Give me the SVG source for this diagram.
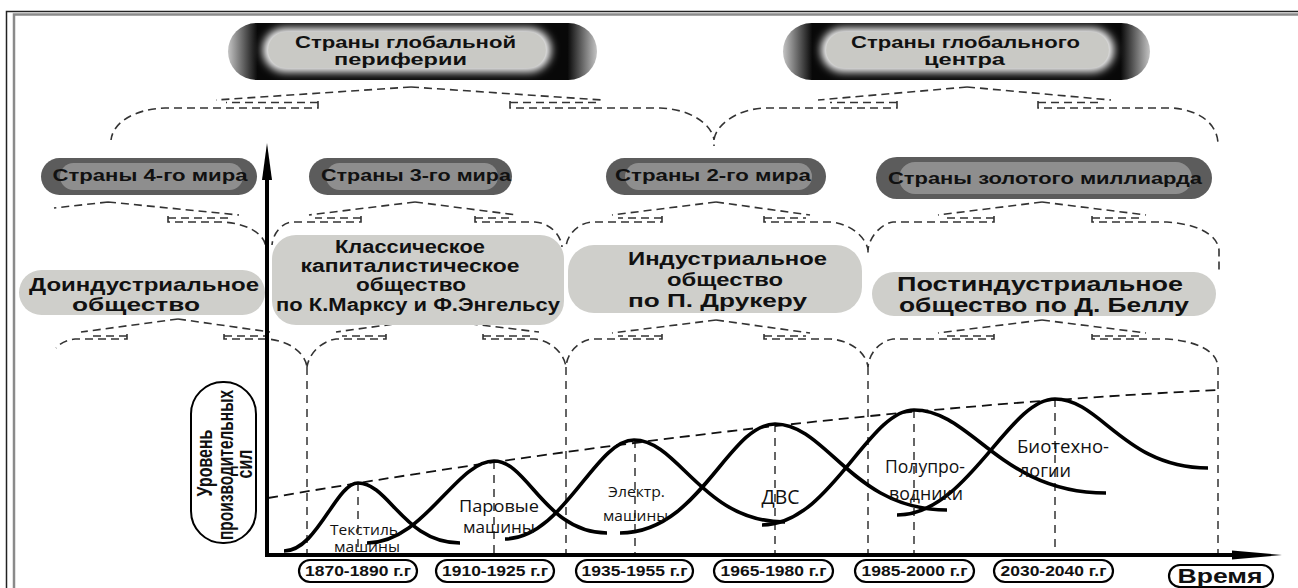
<svg xmlns="http://www.w3.org/2000/svg" width="1298" height="588" viewBox="0 0 1298 588">
<style>
.dash{fill:none;stroke:#333;stroke-width:1.6;stroke-dasharray:8 5}
.vd{fill:none;stroke:#333;stroke-width:1.5;stroke-dasharray:8 6}
.trend{fill:none;stroke:#111;stroke-width:1.8;stroke-dasharray:10 6}
.wave{fill:none;stroke:#000;stroke-width:3.6}
.b{font-family:"Liberation Sans",Arial,sans-serif;font-weight:bold;text-anchor:middle;fill:#111}
.r{font-family:"Open Sans","Noto Sans",sans-serif;text-anchor:middle;fill:#111}
.date{fill:#fff;stroke:#000;stroke-width:2.2}
.lvl2o{fill:#5c5c5c}
.lvl2i{fill:#8e8e8e}
.soc{fill:#cfcfcb}
.topi{fill:#c9c9c5}
</style>
<defs>
<linearGradient id="topG" x1="0" y1="0" x2="1" y2="0">
<stop offset="0" stop-color="#c4c4c4"/><stop offset="0.08" stop-color="#080808"/><stop offset="0.92" stop-color="#080808"/><stop offset="1" stop-color="#c4c4c4"/>
</linearGradient>
<filter id="blur4" x="-20%" y="-60%" width="140%" height="220%"><feGaussianBlur stdDeviation="4"/></filter>
<clipPath id="clipA"><rect x="228" y="23" width="369" height="57" rx="28.5"/></clipPath>
<clipPath id="clipB"><rect x="783" y="23" width="367" height="57" rx="28.5"/></clipPath>
</defs>

<g id="frame" fill="none">
<rect x="6.5" y="11.5" width="1400" height="700" stroke="#222" stroke-width="1.5"/>
<rect x="14" y="14.5" width="1400" height="700" stroke="#8a8a8a" stroke-width="2.5"/>
</g>

<g id="connectors">
<path class="dash" d="M411,87 L216,100 M318,102.5 L226,102.5 M318,101 L318,108 L165,108 C135,109 113,122 111,140"/>
<path class="dash" d="M411,87 L602,100 M510,102.5 L596,102.5 M510,101 L510,108 L660,108 C690,109 712,124 714,140"/>
<path class="dash" d="M967,87 L818,100 M897,102.5 L830,102.5 M897,101 L897,108 L765,108 C738,109 716,124 714,140 L714,146"/>
<path class="dash" d="M967,87 L1111,100 M1038,102.5 L1100,102.5 M1038,101 L1038,108 L1172,108 C1200,110 1217,124 1218,143"/>
<path class="dash" d="M108,202 L54,208 M108,202 L239,215 M168,218 L232,218 M168,216 L168,222 L222,222 C246,223 264,233 266,247"/>
<path class="dash" d="M415,202 L309,215 M361,218 L315,218 M361,216 L361,222 L292,222 C282,223 273,233 272,245"/>
<path class="dash" d="M415,202 L517,215 M475,218 L512,218 M475,216 L475,222 L535,222 C550,223 561,235 562,247"/>
<path class="dash" d="M716,202 L612,215 M662,218 L618,218 M662,216 L662,222 L592,222 C578,223 567,235 566,247"/>
<path class="dash" d="M716,202 L810,215 M764,218 L806,218 M764,216 L764,222 L831,222 C852,224 866,238 868,250 L868,257"/>
<path class="dash" d="M1042,202 L938,215 M994,218 L944,218 M994,216 L994,222 L893,222 C880,224 869,238 868,250"/>
<path class="dash" d="M1042,202 L1146,215 M1092,218 L1140,218 M1092,216 L1092,222 L1167,222 C1195,224 1217,233 1219,250 L1219,272"/>
<path class="dash" d="M178,319 L81,332 M127,336 L88,336 M127,334 L127,339 L75,339 C66,340 59,344 56,348"/>
<path class="dash" d="M178,319 L270,332 M224,336 L265,336 M224,334 L224,339 L268,339 C290,341 305,353 307,367"/>
<path class="dash" d="M431,319 L336,332 M386,336 L342,336 M386,334 L386,339 L336,339 C322,341 309,353 307,367"/>
<path class="dash" d="M431,319 L539,332 M483,336 L533,336 M483,334 L483,339 L535,339 C551,341 564,353 566,367"/>
<path class="dash" d="M716,320 L612,333 M662,336 L618,336 M662,334 L662,339 L592,339 C578,341 567,353 566,367"/>
<path class="dash" d="M716,320 L810,333 M764,336 L806,336 M764,334 L764,339 L831,339 C852,341 866,353 868,367"/>
<path class="dash" d="M1042,320 L938,333 M994,336 L944,336 M994,334 L994,339 L893,339 C880,341 869,353 868,367"/>
<path class="dash" d="M1042,320 L1146,333 M1092,336 L1140,336 M1092,334 L1092,339 L1167,339 C1195,341 1217,350 1218,367"/>
<path class="vd" d="M307,367 V553 M566,367 V553 M868,367 V553 M1218,367 V553"/>
<path class="vd" d="M358,483 V553 M494,461 V553 M635,440 V553 M775,424 V553 M914,410 V553 M1055,399 V553"/>
<path class="trend" d="M268,498 Q772,412 1218,390"/>
<path class="wave" d="M284,551 C317,551 336,483 358,483 C389,483 404,543 460,543"/>
<path class="wave" d="M367,543 C424,543 456,461 494,461 C528,461 545,533 607,533"/>
<path class="wave" d="M505,539 C563,539 595,440 634,440 C679,440 702,522 785,522"/>
<path class="wave" d="M620,533 C700,533 728,424 775,424 C827,424 852,510 947,510"/>
<path class="wave" d="M762,525 C830,525 868,410 914,410 C972,410 1000,493 1106,493"/>
<path class="wave" d="M897,515 C968,515 1008,399 1055,399 C1101,399 1124,468 1208,468"/>
</g>

<g id="top-periphery">
<rect x="228" y="23" width="369" height="57" rx="28.5" fill="url(#topG)"/>
<rect x="263" y="28" width="288" height="44" rx="22" fill="#fff" filter="url(#blur4)" clip-path="url(#clipA)"/>
<rect class="topi" x="268" y="32" width="278" height="36" rx="18"/>
<text class="b" x="405.5" y="48" font-size="16.5" textLength="221" lengthAdjust="spacingAndGlyphs">Страны глобальной</text>
<text class="b" x="400.5" y="65" font-size="16.5" textLength="133" lengthAdjust="spacingAndGlyphs">периферии</text>
</g>
<g id="top-center">
<rect x="783" y="23" width="367" height="57" rx="28.5" fill="url(#topG)"/>
<rect x="821" y="28" width="293" height="44" rx="22" fill="#fff" filter="url(#blur4)" clip-path="url(#clipB)"/>
<rect class="topi" x="826" y="32" width="283" height="36" rx="18"/>
<text class="b" x="965.5" y="48" font-size="16.5" textLength="229" lengthAdjust="spacingAndGlyphs">Страны глобального</text>
<text class="b" x="964.5" y="65" font-size="16.5" textLength="81" lengthAdjust="spacingAndGlyphs">центра</text>
</g>

<g id="world4">
<rect class="lvl2o" x="41" y="158" width="216" height="37" rx="18.5"/>
<rect class="lvl2i" x="60" y="163" width="183" height="27" rx="13.5"/>
<text class="b" x="150" y="181" font-size="16.5" textLength="195" lengthAdjust="spacingAndGlyphs">Страны 4-го мира</text>
</g>
<g id="world3">
<rect class="lvl2o" x="309" y="158" width="203" height="37" rx="18.5"/>
<rect class="lvl2i" x="326" y="163" width="172" height="27" rx="13.5"/>
<text class="b" x="416" y="181" font-size="16.5" textLength="190" lengthAdjust="spacingAndGlyphs">Страны 3-го мира</text>
</g>
<g id="world2">
<rect class="lvl2o" x="606" y="158" width="220" height="37" rx="18.5"/>
<rect class="lvl2i" x="625" y="163" width="187" height="27" rx="13.5"/>
<text class="b" x="713" y="181" font-size="16.5" textLength="196" lengthAdjust="spacingAndGlyphs">Страны 2-го мира</text>
</g>
<g id="golden">
<rect class="lvl2o" x="876" y="157" width="336" height="42" rx="21"/>
<rect class="lvl2i" x="899" y="162" width="293" height="32" rx="16"/>
<text class="b" x="1045" y="184" font-size="16.5" textLength="314" lengthAdjust="spacingAndGlyphs">Страны золотого миллиарда</text>
</g>

<g id="preindustrial">
<rect class="soc" x="19" y="270" width="246" height="45" rx="22.5"/>
<text class="b" x="144" y="290.5" font-size="19" textLength="230" lengthAdjust="spacingAndGlyphs">Доиндустриальное</text>
<text class="b" x="136" y="310.5" font-size="19" textLength="128" lengthAdjust="spacingAndGlyphs">общество</text>
</g>
<g id="classic">
<rect class="soc" x="272" y="235" width="292" height="90" rx="24"/>
<text class="b" x="410" y="253" font-size="17.5" textLength="150" lengthAdjust="spacingAndGlyphs">Классическое</text>
<text class="b" x="410" y="272" font-size="17.5" textLength="219" lengthAdjust="spacingAndGlyphs">капиталистическое</text>
<text class="b" x="411" y="291" font-size="17.5" textLength="110" lengthAdjust="spacingAndGlyphs">общество</text>
<text class="b" x="418" y="310.5" font-size="17.5" textLength="284" lengthAdjust="spacingAndGlyphs">по К.Марксу и Ф.Энгельсу</text>
</g>
<g id="industrial">
<rect class="soc" x="568" y="245" width="294" height="68" rx="26"/>
<text class="b" x="727.5" y="264.5" font-size="19" textLength="199" lengthAdjust="spacingAndGlyphs">Индустриальное</text>
<text class="b" x="725" y="286" font-size="19" textLength="116" lengthAdjust="spacingAndGlyphs">общество</text>
<text class="b" x="717.5" y="306.5" font-size="19" textLength="179" lengthAdjust="spacingAndGlyphs">по П. Друкеру</text>
</g>
<g id="postindustrial">
<rect class="soc" x="872" y="272" width="344" height="44" rx="22"/>
<text class="b" x="1040" y="290.5" font-size="19.5" textLength="286" lengthAdjust="spacingAndGlyphs">Постиндустриальное</text>
<text class="b" x="1044" y="312" font-size="19.5" textLength="290" lengthAdjust="spacingAndGlyphs">общество по Д. Беллу</text>
</g>

<g id="axes">
<line x1="267" y1="172" x2="267" y2="557" stroke="#000" stroke-width="4"/>
<polygon points="267,143 262,180 272,180" fill="#000"/>
<line x1="265" y1="555" x2="1240" y2="555" stroke="#000" stroke-width="4"/>
<polygon points="1232,550.5 1282,555 1232,559.5" fill="#000"/>
</g>

<g id="y-label">
<rect x="191" y="382" width="65" height="161" rx="32" fill="#fff" stroke="#000" stroke-width="2"/>
<text class="b" font-size="16" transform="translate(212,463) scale(1.35,1) rotate(-90)">Уровень</text>
<text class="b" font-size="16" transform="translate(233,465) scale(1.35,1) rotate(-90)" textLength="150" lengthAdjust="spacingAndGlyphs">производительных</text>
<text class="b" font-size="16" transform="translate(252,464) scale(1.35,1) rotate(-90)">сил</text>
</g>

<g id="wave-labels">
<text class="r" x="366" y="535" font-size="14.5" textLength="72" lengthAdjust="spacingAndGlyphs">Текстиль.</text>
<text class="r" x="367" y="552" font-size="14.5" textLength="66" lengthAdjust="spacingAndGlyphs">машины</text>
<text class="r" x="499" y="512" font-size="16.5" textLength="80" lengthAdjust="spacingAndGlyphs">Паровые</text>
<text class="r" x="499" y="533" font-size="16.5" textLength="72" lengthAdjust="spacingAndGlyphs">машины</text>
<text class="r" x="636.5" y="497" font-size="15" textLength="57" lengthAdjust="spacingAndGlyphs">Электр.</text>
<text class="r" x="635.5" y="520.5" font-size="15" textLength="65" lengthAdjust="spacingAndGlyphs">машины</text>
<text class="r" x="780.5" y="504" font-size="20" textLength="38" lengthAdjust="spacingAndGlyphs">ДВС</text>
<text class="r" x="925" y="473" font-size="18" textLength="80" lengthAdjust="spacingAndGlyphs">Полупро-</text>
<text class="r" x="926" y="500" font-size="18" textLength="74" lengthAdjust="spacingAndGlyphs">водники</text>
<text class="r" x="1063" y="453" font-size="18" textLength="92" lengthAdjust="spacingAndGlyphs">Биотехно-</text>
<text class="r" x="1045" y="477" font-size="18" textLength="52" lengthAdjust="spacingAndGlyphs">логии</text>
</g>

<g id="dates">
<rect class="date" x="299" y="560" width="118" height="22" rx="11"/>
<text class="b" x="358" y="576" font-size="14.5" textLength="106" lengthAdjust="spacingAndGlyphs">1870-1890 г.г</text>
<rect class="date" x="436" y="560" width="118" height="22" rx="11"/>
<text class="b" x="495" y="576" font-size="14.5" textLength="106" lengthAdjust="spacingAndGlyphs">1910-1925 г.г</text>
<rect class="date" x="576" y="560" width="117" height="22" rx="11"/>
<text class="b" x="634.5" y="576" font-size="14.5" textLength="106" lengthAdjust="spacingAndGlyphs">1935-1955 г.г</text>
<rect class="date" x="714" y="560" width="119" height="22" rx="11"/>
<text class="b" x="773.5" y="576" font-size="14.5" textLength="106" lengthAdjust="spacingAndGlyphs">1965-1980 г.г</text>
<rect class="date" x="855" y="560" width="119" height="22" rx="11"/>
<text class="b" x="914.5" y="576" font-size="14.5" textLength="106" lengthAdjust="spacingAndGlyphs">1985-2000 г.г</text>
<rect class="date" x="994" y="560" width="119" height="22" rx="11"/>
<text class="b" x="1053.5" y="576" font-size="14.5" textLength="106" lengthAdjust="spacingAndGlyphs">2030-2040 г.г</text>
</g>
<g id="time">
<rect class="date" x="1169" y="565" width="104" height="22" rx="11"/>
<text class="b" x="1220" y="582.5" font-size="20" textLength="85" lengthAdjust="spacingAndGlyphs">Время</text>
</g>
</svg>
